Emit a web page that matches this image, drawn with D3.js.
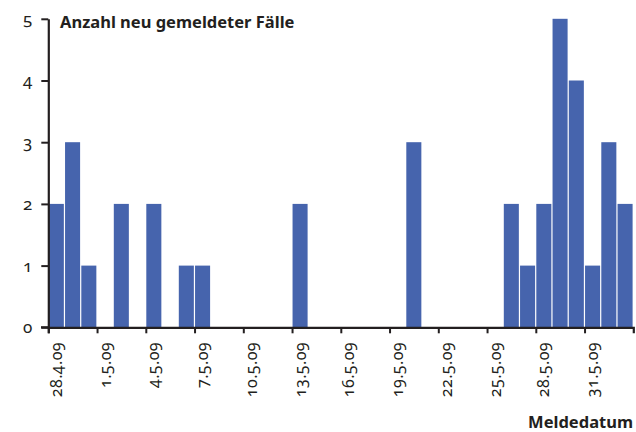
<!DOCTYPE html>
<html>
<head>
<meta charset="utf-8">
<script src="https://cdn.jsdelivr.net/npm/d3@7"></script>
<style>
  body { margin: 0; background: #fff; }
  text { font-family: "Noto Sans", sans-serif; font-variant-numeric: oldstyle-nums; fill: #231f20; }
</style>
</head>
<body>
<div id="chart"></div>
<script>
// reported days and new cases (days not listed had 0 cases)
var dates = ['28.4.09', '29.4.09', '30.4.09', '2.5.09', '4.5.09', '6.5.09', '7.5.09', '13.5.09',
  '20.5.09', '26.5.09', '27.5.09', '28.5.09', '29.5.09', '30.5.09', '31.5.09', '1.6.09', '2.6.09'];
var counts = [2, 3, 1, 2, 2, 1, 1, 2, 3, 2, 1, 2, 5, 4, 1, 3, 2];
var tickLabels = ['28.4.09', '1.5.09', '4.5.09', '7.5.09', '10.5.09', '13.5.09', '16.5.09',
  '19.5.09', '22.5.09', '25.5.09', '28.5.09', '31.5.09'];
var yTicks = [0, 1, 2, 3, 4, 5];

var w = 636,
  h = 432;

var parse = d3.timeParse('%d.%m.%y');

var svg = d3.select('#chart').append('svg')
  .attr('width', w)
  .attr('height', h);

var x = d3.scaleTime()
  .domain([parse('28.4.09'), parse('3.6.09')])
  .range([48.3, 633.3]);

var y = d3.scaleLinear()
  .domain([0, 5])
  .range([327.3, 18.8]);

// bars
svg.selectAll('rect.bar')
  .data(dates.map(function(d, i) { return { date: parse(d), value: counts[i] }; }))
  .enter().append('rect')
  .attr('class', 'bar')
  .attr('x', function(d) { return x(d.date) + 0.5; })
  .attr('width', function(d) { return x(d3.timeDay.offset(d.date, 1)) - x(d.date) - 1.2; })
  .attr('y', function(d) { return y(d.value); })
  .attr('height', function(d) { return y(0) - y(d.value); })
  .attr('fill', '#4664ad');

// x axis
var xAxis = d3.axisBottom(x)
  .tickValues(tickLabels.map(parse))
  .tickSize(6)
  .tickSizeOuter(6)
  .tickFormat('');

var gx = svg.append('g')
  .attr('transform', 'translate(0,' + y(0) + ')')
  .call(xAxis);
gx.select('.domain').attr('stroke', '#231f20').attr('stroke-width', 2.2);
gx.selectAll('.tick line').attr('stroke', '#231f20').attr('stroke-width', 2);

// extend the base line left past the y axis
svg.append('line')
  .attr('x1', 41).attr('x2', 49)
  .attr('y1', y(0)).attr('y2', y(0))
  .attr('stroke', '#231f20').attr('stroke-width', 2.2);

// rotated date labels, centred on their day
svg.selectAll('text.xlab')
  .data(tickLabels)
  .enter().append('text')
  .attr('class', 'xlab')
  .attr('transform', function(d) {
    var d0 = parse(d);
    var cx = (x(d0) + x(d3.timeDay.offset(d0, 1))) / 2;
    return 'translate(' + (cx + 5.5) + ',342) rotate(-90)';
  })
  .attr('text-anchor', 'end')
  .style('font-size', '16px')
  .style('letter-spacing', '0.4px')
  .text(function(d) { return d; });

// y axis
var yAxis = d3.axisLeft(y)
  .tickValues(yTicks)
  .tickSize(7)
  .tickSizeOuter(0)
  .tickPadding(9)
  .tickFormat(d3.format('d'));

var gy = svg.append('g')
  .attr('transform', 'translate(48.3,0)')
  .call(yAxis);
gy.select('.domain').attr('stroke', '#231f20').attr('stroke-width', 2.2);
gy.selectAll('.tick line').attr('stroke', '#231f20').attr('stroke-width', 2);
gy.selectAll('.tick text')
  .style('font-size', '17px')
  .style('font-family', '"Noto Sans", sans-serif')
  .style('font-variant-numeric', 'oldstyle-nums');

// titles
svg.append('text')
  .attr('x', 60)
  .attr('y', 28)
  .style('font-size', '16.5px')
  .style('font-weight', 'bold')
  .text('Anzahl neu gemeldeter Fälle');

svg.append('text')
  .attr('x', 633)
  .attr('y', 428)
  .attr('text-anchor', 'end')
  .style('font-size', '16.5px')
  .style('font-weight', 'bold')
  .text('Meldedatum');
</script>
</body>
</html>
